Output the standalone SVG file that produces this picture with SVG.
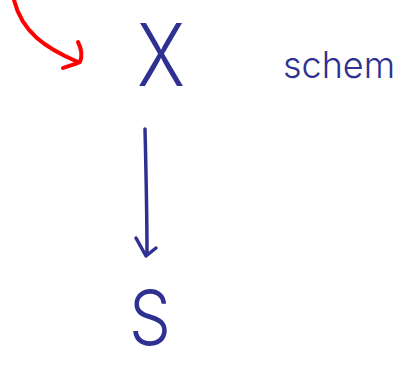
<svg xmlns="http://www.w3.org/2000/svg" width="404" height="366" viewBox="0 0 404 366">
<style>
.hand{font-family:"Inter","Open Sans","DejaVu Sans",sans-serif;font-weight:300;fill:#2e3192}
.ink{fill:none;stroke:#2e3192;stroke-width:3.5;stroke-linecap:round;stroke-linejoin:round}
.red{fill:none;stroke:#ff0000;stroke-width:4;stroke-linecap:round;stroke-linejoin:round}
</style>
<rect width="404" height="366" fill="#ffffff"/>
<g id="connectors">
<path class="red" d="M14,0 C22,32 45,48 78,62"/>
<path class="red" d="M78,42 C82,50 82,57 80,62 C74,65 68,66 63,68"/>
<path class="ink" d="M145,129 C146,170 147,215 147,254"/>
<path class="ink" d="M136,238 L146,256 L156,248"/>
</g>
<g id="node-X">
<text class="hand" x="161" y="86" font-size="86" text-anchor="middle" textLength="48" lengthAdjust="spacingAndGlyphs">X</text>
</g>
<g id="node-S">
<text class="hand" x="150" y="345" font-size="76" text-anchor="middle" textLength="42" lengthAdjust="spacingAndGlyphs">S</text>
</g>
<g id="label-schem">
<text class="hand" x="283" y="78" font-size="37" textLength="112" lengthAdjust="spacingAndGlyphs">schem</text>
</g>
</svg>
